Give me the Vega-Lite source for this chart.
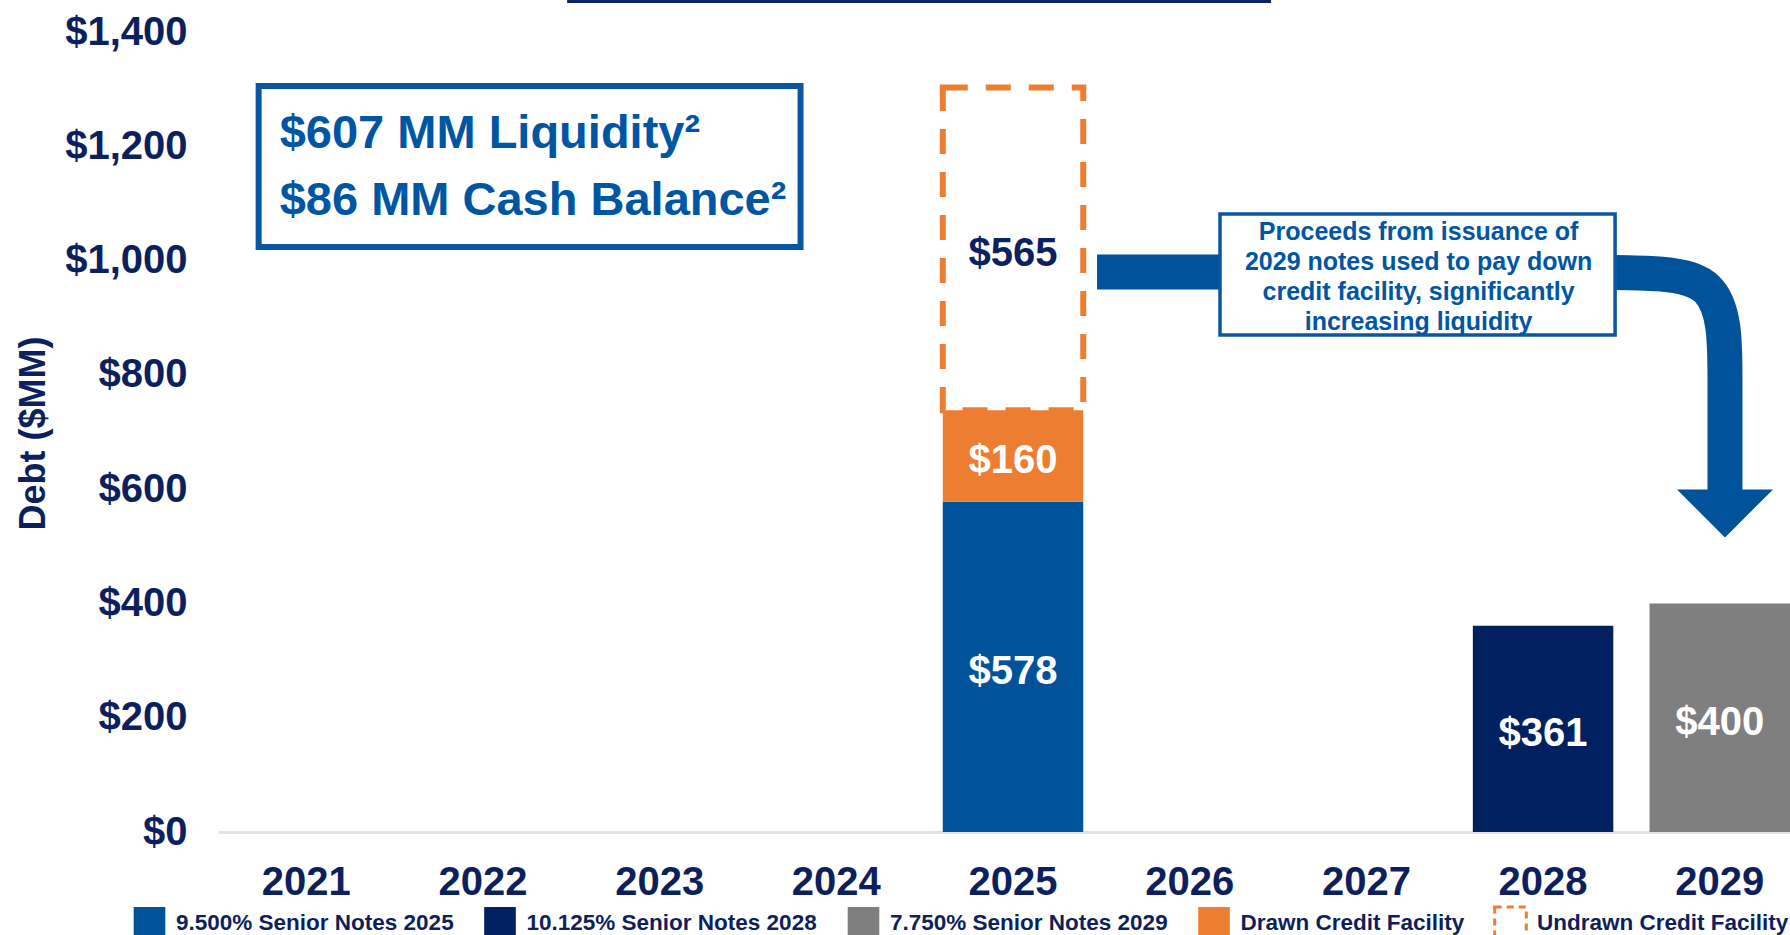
{
  "$schema": "https://vega.github.io/schema/vega-lite/v6.json",
  "width": 1572,
  "height": 800,
  "autosize": {"type": "none"},
  "padding": {"left": 218, "top": 32, "right": 0, "bottom": 103},
  "background": "white",
  "config": {
    "view": {"stroke": null},
    "font": "Liberation Sans",
    "axisY": {"grid": false, "domain": false, "ticks": false, "labelFontSize": 40, "labelFontWeight": "bold", "labelColor": "#0D1F5C", "labelPadding": 31, "titleFontSize": 36, "titleFontWeight": "bold", "titleColor": "#0D1F5C", "titleX": -185, "titleY": 401, "titleAngle": 270, "titleBaseline": "middle", "titleAlign": "center"},
    "legend": {
      "orient": "none",
      "direction": "horizontal",
      "legendX": -86,
      "legendY": 873,
      "title": null,
      "padding": 0,
      "symbolType": "square",
      "symbolSize": 1000,
      "symbolStrokeWidth": 3,
      "symbolDash": [7, 5],
      "labelFont": "Liberation Sans",
      "labelFontWeight": "bold",
      "labelFontSize": 22.5,
      "labelColor": "#0D1F5C",
      "labelOffset": 9,
      "columnPadding": 23.5,
      "labelLimit": 500
    }
  },
  "datasets": {
    "debt": [
      {"year": "2025", "series": "Undrawn Credit Facility", "value": 565},
      {"year": "2025", "series": "9.500% Senior Notes 2025", "value": 578},
      {"year": "2025", "series": "Drawn Credit Facility", "value": 160},
      {"year": "2028", "series": "10.125% Senior Notes 2028", "value": 361},
      {"year": "2029", "series": "7.750% Senior Notes 2029", "value": 400}
    ],
    "topline": [{"u0": 2022.476, "u1": 2026.46, "v": 1453.4}],
    "liqbox": [{"u0": 2020.73, "u1": 2023.797, "v0": 1305.5, "v1": 1023.75}],
    "liqtext": [
      {"t": "$607 MM Liquidity²", "u": 2020.849, "v": 1223.25},
      {"t": "$86 MM Cash Balance²", "u": 2020.849, "v": 1106}
    ],
    "arrow": [
      {"i": 1, "u": 2025.475, "v": 980},
      {"i": 2, "u": 2028.435, "v": 980},
      {"i": 3, "u": 2029.029, "v": 980},
      {"i": 4, "u": 2029.029, "v": 796.25},
      {"i": 5, "u": 2029.029, "v": 589.75}
    ],
    "head": [{"u": 2029.029, "v": 557.4}],
    "callbox": [{"u0": 2026.171, "u1": 2028.407, "v0": 1081.5, "v1": 869.75}],
    "calltext": [
      {"t": "Proceeds from issuance of", "u": 2027.295, "v": 1053.5},
      {"t": "2029 notes used to pay down", "u": 2027.295, "v": 1001},
      {"t": "credit facility, significantly", "u": 2027.295, "v": 948.5},
      {"t": "increasing liquidity", "u": 2027.295, "v": 896}
    ]
  },
  "resolve": {"scale": {"x": "independent"}},
  "layer": [
    {
      "data": {"name": "debt"},
      "transform": [
        {"stack": "value", "groupby": ["year"], "sort": [{"field": "series", "order": "ascending"}], "as": ["v0", "v1"]}
      ],
      "layer": [
        {
          "mark": {"type": "bar"},
          "encoding": {
            "x": {
              "field": "year", "type": "ordinal",
              "scale": {"domain": ["2021", "2022", "2023", "2024", "2025", "2026", "2027", "2028", "2029"], "paddingInner": 0.205, "paddingOuter": 0.051, "align": 1},
              "axis": {"title": null, "labelAngle": 0, "labelFontSize": 40, "labelFontWeight": "bold", "labelColor": "#0D1F5C", "labelPadding": 30, "ticks": false, "domainColor": "#E3E3E3", "domainWidth": 3}
            },
            "y": {
              "field": "v0", "type": "quantitative", "title": "Debt ($MM)",
              "scale": {"domain": [0, 1400], "nice": false},
              "axis": {"values": [0, 200, 400, 600, 800, 1000, 1200, 1400], "format": "$,d"}
            },
            "y2": {"field": "v1"},
            "fill": {
              "field": "series", "type": "nominal",
              "scale": {"domain": ["9.500% Senior Notes 2025", "10.125% Senior Notes 2028", "7.750% Senior Notes 2029", "Drawn Credit Facility", "Undrawn Credit Facility"], "range": ["#00529B", "#002060", "#7F7F7F", "#ED7D31", "#FFFFFF"]}
            },
            "stroke": {
              "field": "series", "type": "nominal",
              "scale": {"domain": ["9.500% Senior Notes 2025", "10.125% Senior Notes 2028", "7.750% Senior Notes 2029", "Drawn Credit Facility", "Undrawn Credit Facility"], "range": ["transparent", "transparent", "transparent", "transparent", "#ED7D31"]}
            },
            "strokeWidth": {"condition": {"test": "datum.series === 'Undrawn Credit Facility'", "value": 6}, "value": 0},
            "strokeDash": {"condition": {"test": "datum.series === 'Undrawn Credit Facility'", "value": [25, 18]}, "value": [1, 0]}
          }
        },
        {
          "transform": [
            {"fold": ["v0", "v1"], "as": ["k", "p"]},
            {"aggregate": [{"op": "mean", "field": "p", "as": "mid"}], "groupby": ["year", "series", "value"]}
          ],
          "mark": {"type": "text", "fontSize": 40, "fontWeight": "bold", "baseline": "middle", "align": "center", "dy": 5},
          "encoding": {
            "x": {"field": "year", "type": "ordinal"},
            "y": {"field": "mid", "type": "quantitative", "title": "Debt ($MM)", "scale": {"domain": [0, 1400], "nice": false}},
            "text": {"field": "value", "type": "quantitative", "format": "$,d"},
            "color": {"condition": {"test": "datum.series === 'Undrawn Credit Facility'", "value": "#0B2160"}, "value": "white"}
          }
        }
      ]
    },
    {
      "data": {"name": "topline"},
      "mark": {"type": "rule", "color": "#0D2366", "strokeWidth": 3},
      "encoding": {
        "x": {"field": "u0", "type": "quantitative", "scale": {"domain": [2020.5, 2029.397], "nice": false, "zero": false}, "axis": null},
        "x2": {"field": "u1"},
        "y": {"field": "v", "type": "quantitative", "title": "Debt ($MM)", "scale": {"domain": [0, 1400], "nice": false}}
      }
    },
    {
      "data": {"name": "liqbox"},
      "mark": {"type": "rect", "fill": "white", "stroke": "#0A56A2", "strokeWidth": 6},
      "encoding": {
        "x": {"field": "u0", "type": "quantitative", "scale": {"domain": [2020.5, 2029.397], "nice": false, "zero": false}, "axis": null},
        "x2": {"field": "u1"},
        "y": {"field": "v0", "type": "quantitative", "title": "Debt ($MM)", "scale": {"domain": [0, 1400], "nice": false}},
        "y2": {"field": "v1"}
      }
    },
    {
      "data": {"name": "liqtext"},
      "mark": {"type": "text", "fontSize": 47, "fontWeight": "bold", "align": "left", "baseline": "middle", "color": "#0056A3", "dy": 1},
      "encoding": {
        "x": {"field": "u", "type": "quantitative", "scale": {"domain": [2020.5, 2029.397], "nice": false, "zero": false}, "axis": null},
        "y": {"field": "v", "type": "quantitative", "title": "Debt ($MM)", "scale": {"domain": [0, 1400], "nice": false}},
        "text": {"field": "t"}
      }
    },
    {
      "data": {"name": "arrow"},
      "mark": {"type": "line", "color": "#00529B", "strokeWidth": 35, "interpolate": "basis", "strokeCap": "butt"},
      "encoding": {
        "x": {"field": "u", "type": "quantitative", "scale": {"domain": [2020.5, 2029.397], "nice": false, "zero": false}, "axis": null},
        "y": {"field": "v", "type": "quantitative", "title": "Debt ($MM)", "scale": {"domain": [0, 1400], "nice": false}},
        "order": {"field": "i"}
      }
    },
    {
      "data": {"name": "head"},
      "mark": {"type": "point", "shape": "M-1,-0.5L1,-0.5L0,0.5Z", "size": 9216, "filled": true, "color": "#00529B", "opacity": 1, "strokeWidth": 0},
      "encoding": {
        "x": {"field": "u", "type": "quantitative", "scale": {"domain": [2020.5, 2029.397], "nice": false, "zero": false}, "axis": null},
        "y": {"field": "v", "type": "quantitative", "title": "Debt ($MM)", "scale": {"domain": [0, 1400], "nice": false}}
      }
    },
    {
      "data": {"name": "callbox"},
      "mark": {"type": "rect", "fill": "white", "stroke": "#0A56A2", "strokeWidth": 3.5},
      "encoding": {
        "x": {"field": "u0", "type": "quantitative", "scale": {"domain": [2020.5, 2029.397], "nice": false, "zero": false}, "axis": null},
        "x2": {"field": "u1"},
        "y": {"field": "v0", "type": "quantitative", "title": "Debt ($MM)", "scale": {"domain": [0, 1400], "nice": false}},
        "y2": {"field": "v1"}
      }
    },
    {
      "data": {"name": "calltext"},
      "mark": {"type": "text", "fontSize": 25, "fontWeight": "bold", "align": "center", "baseline": "middle", "color": "#0056A3", "dy": 2},
      "encoding": {
        "x": {"field": "u", "type": "quantitative", "scale": {"domain": [2020.5, 2029.397], "nice": false, "zero": false}, "axis": null},
        "y": {"field": "v", "type": "quantitative", "title": "Debt ($MM)", "scale": {"domain": [0, 1400], "nice": false}},
        "text": {"field": "t"}
      }
    }
  ]
}
